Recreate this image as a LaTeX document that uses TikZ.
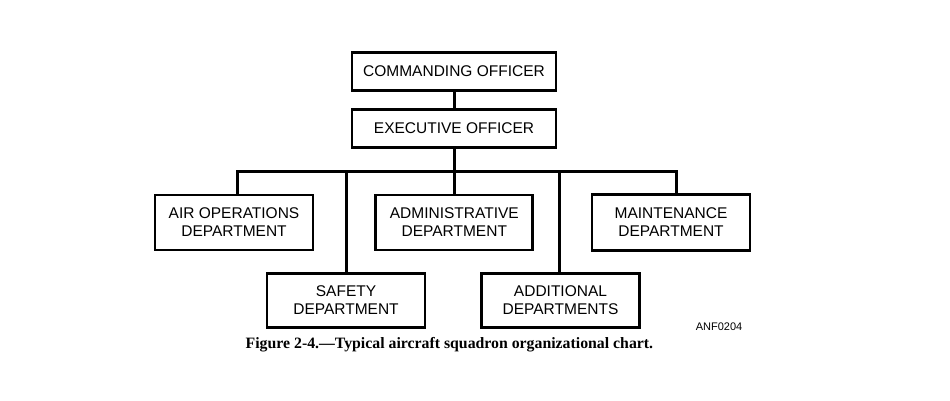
\documentclass[tikz,border=0pt]{standalone}
\usepackage{fontspec}
\setmainfont{Liberation Sans}
\newfontfamily\capfont{Liberation Serif}
\begin{document}
\begin{tikzpicture}[x=1pt,y=-1pt,
  box/.style={draw=black, line width=2.8pt, inner sep=0pt, align=center,
    font=\fontsize{15.5}{18}\selectfont, text=black},
  conn/.style={draw=black, line width=3pt}]
\useasboundingbox[fill=white] (0,0) rectangle (950,400);
\node[box, minimum width=204pt, minimum height=38.5pt] (co) at (454,71.5) {COMMANDING OFFICER};
\node[box, minimum width=204pt, minimum height=38pt] (eo) at (454,128.3) {EXECUTIVE OFFICER};
\node[box, minimum width=158pt, minimum height=55pt] (air) at (234,222.5) {AIR OPERATIONS\\DEPARTMENT};
\node[box, minimum width=157pt, minimum height=55pt] (admin) at (454.3,222.5) {ADMINISTRATIVE\\DEPARTMENT};
\node[box, minimum width=158pt, minimum height=56pt] (maint) at (671,222.2) {MAINTENANCE\\DEPARTMENT};
\node[box, minimum width=158pt, minimum height=54pt] (safety) at (346,300.3) {SAFETY\\DEPARTMENT};
\node[box, minimum width=158pt, minimum height=54pt] (addl) at (560.5,300.2) {ADDITIONAL\\DEPARTMENTS};
\coordinate (bus) at (454,171);
\draw[conn] (co.south) -- (eo.north);
\draw[conn] (eo.south) -- (bus);
\draw[conn] ([xshift=3pt]air.north) |- (bus) -| ([xshift=5pt]maint.north);
\draw[conn] (admin.north) -- (admin.north |- bus);
\draw[conn] (safety.north) -- (safety.north |- bus);
\draw[conn] ([xshift=-1pt]addl.north) -- ([xshift=-1pt]addl.north |- bus);
\node[anchor=base, font=\fontsize{11}{13}\selectfont, inner sep=0pt] (anf) at (719,330) {ANF0204};
\node[anchor=base, font=\capfont\bfseries\fontsize{15.8}{18}\selectfont, inner sep=0pt] (cap) at (449.4,348.3) {Figure 2-4.—Typical aircraft squadron organizational chart.};
\end{tikzpicture}
\end{document}
